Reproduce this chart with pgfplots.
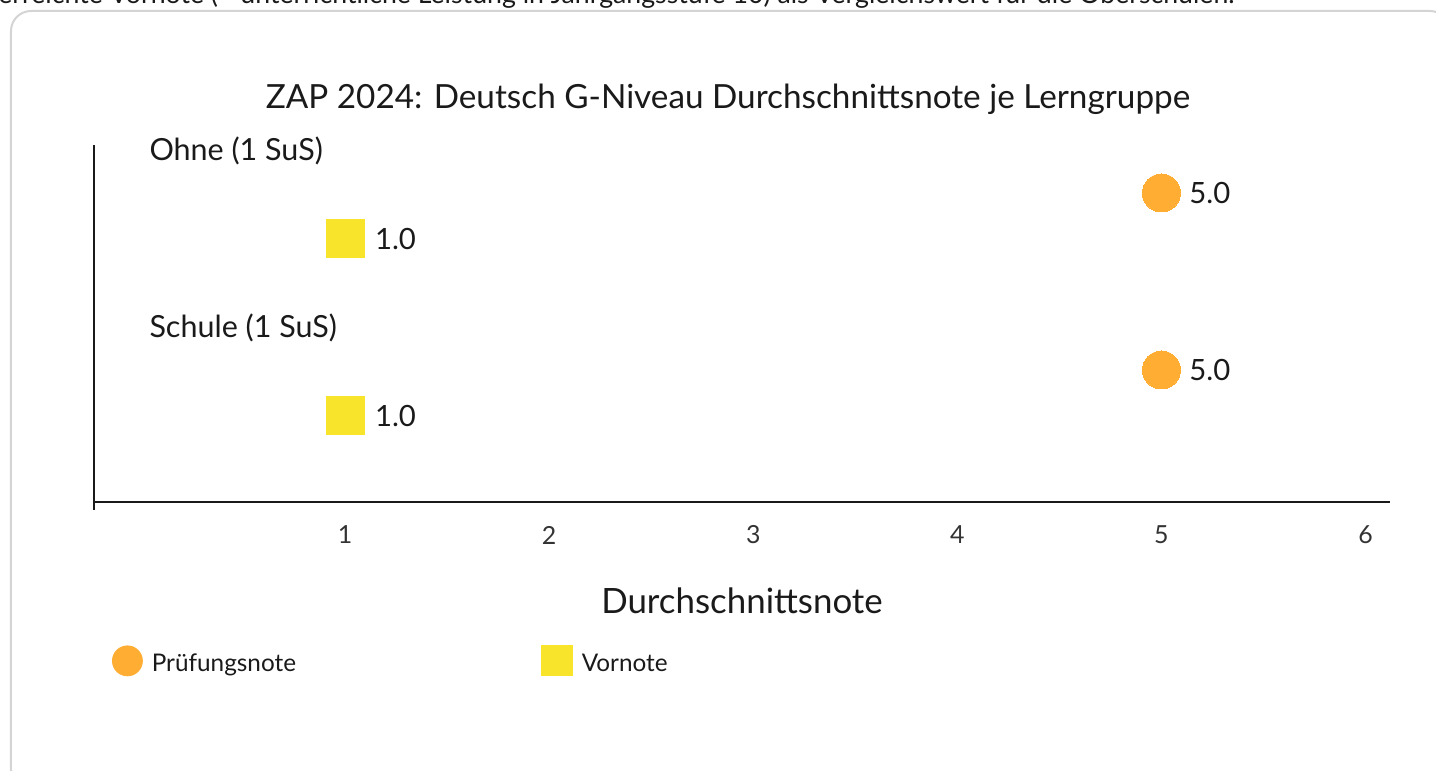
\documentclass[border=0pt]{standalone}
\usepackage{fontspec}
\setmainfont{Lato}
\usepackage{pgfplots}
\pgfplotsset{compat=1.18}
\definecolor{pruef}{HTML}{FFAD33}
\definecolor{vor}{HTML}{F8E42A}
\definecolor{framegray}{HTML}{D4D4D4}
\definecolor{txt}{HTML}{1A1A1A}

\begin{document}
\begin{tikzpicture}
% page = 1436 x 771 px, 1 px = 0.5 bp
\path[use as bounding box] (0,0) rectangle (718bp,-385.5bp);
\clip (0,0) rectangle (718bp,-385.5bp);
\begin{scope}[x=0.5bp,y=-0.5bp]
 \node[anchor=base west,inner sep=0,text=txt] at (-2,4)
   {\resizebox{618bp}{!}{erreichte Vornote (= unterrichtliche Leistung in Jahrgangsstufe 10) als Vergleichswert für die Oberschulen.}};
 \draw[framegray,line width=1bp,rounded corners=10bp] (11,11) rectangle (1450,790);
 \node[text=txt,font=\fontsize{16.7}{19}\selectfont,inner sep=0] at (728,99)
   {ZAP 2024: Deutsch G-Niveau Durchschnittsnote je Lerngruppe};
\end{scope}

\begin{axis}[
 at={(47bp,-251bp)},anchor=south west,
 scale only axis,width=648bp,height=178.5bp,
 xmin=-0.23,xmax=6.12,ymin=0.384,ymax=2.401,
 axis x line=bottom,axis y line=left,
 axis line style={-,line width=1bp,txt},
 xtick={1,2,3,4,5,6},ytick=\empty,major tick length=0,
 /pgf/number format/assume math mode=true,
 xticklabel style={font=\fontsize{12.5}{14}\selectfont,text=black!80,anchor=center,yshift=-16.5bp},
 xlabel={Durchschnittsnote},
 x label style={at={(axis description cs:0.5,0)},anchor=center,yshift=-49.5bp,
   font=\fontsize{17.5}{20}\selectfont,text=txt},
 clip=false,
 legend columns=2,
 legend style={at={(0.0139,-0.445)},anchor=west,draw=none,fill=none,
   inner sep=0pt,outer sep=0pt,font=\fontsize{12.2}{14}\selectfont,
   nodes={inner sep=0pt,text=txt},column sep=4.5bp,
   /tikz/every even column/.append style={column sep=122.5bp}},
 legend cell align=left,
 nodes near coords={\pgfmathprintnumber[fixed,fixed zerofill,precision=1,assume math mode=true]{\pgfplotspointmeta}},
 point meta=x,
 nodes near coords align=horizontal,
 every node near coord/.append style={font=\fontsize{14.7}{17}\selectfont,text=txt,inner sep=0pt},
]
% Pruefungsnote: Ohne (y=2), Schule (y=1), offset +0.13
\addplot[only marks,color=pruef,mark=*,mark size=9.5bp,mark options={draw=pruef,fill=pruef,line width=0pt},
  every node near coord/.append style={xshift=14bp},
  legend image code/.code={\fill[pruef] (7.5bp,1.5bp) circle (7.5bp);}]
  coordinates {(5,2.13) (5,1.13)};
\addlegendentry{Prüfungsnote}
% Vornote, offset -0.13
\addplot[only marks,color=vor,mark=square*,mark size=9.5bp,mark options={draw=vor,fill=vor,line width=0pt},
  every node near coord/.append style={xshift=15bp},
  legend image code/.code={\fill[vor] (0bp,-6bp) rectangle (15.5bp,9bp);}]
  coordinates {(1,1.87) (1,0.87)};
\addlegendentry{Vornote}
\draw[line width=1bp,txt] (axis cs:-0.23,0.384) -- ++(0bp,-4bp);
\node[anchor=west,inner sep=0,text=txt,font=\fontsize{15.3}{18}\selectfont] at (axis cs:0.04,2.37) {Ohne (1 SuS)};
\node[anchor=west,inner sep=0,text=txt,font=\fontsize{15.3}{18}\selectfont] at (axis cs:0.04,1.37) {Schule (1 SuS)};
\end{axis}
\end{tikzpicture}
\end{document}
